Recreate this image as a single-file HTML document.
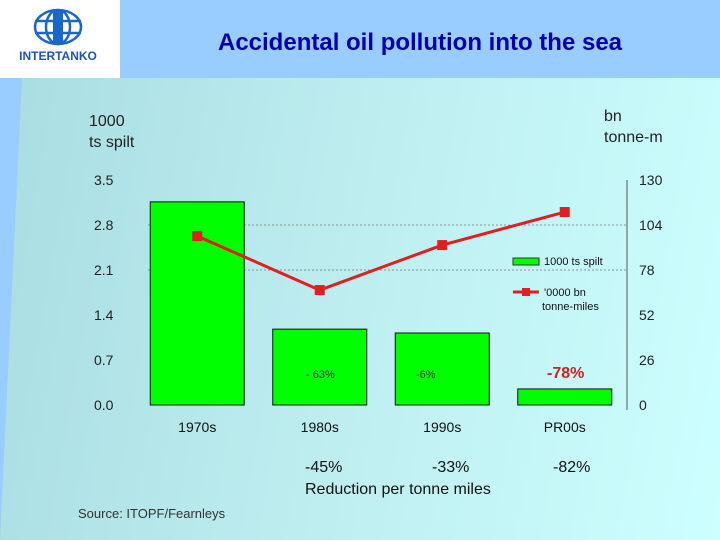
<!DOCTYPE html>
<html><head><meta charset="utf-8"><style>
body{margin:0;width:720px;height:540px;overflow:hidden;font-family:"Liberation Sans",sans-serif;}
#bg{position:absolute;left:0;top:0;width:720px;height:540px;background:#99ccff;}
#panel{position:absolute;left:0;top:78px;width:720px;height:462px;background:linear-gradient(100deg,#a8dde2 0%,#bfeef0 50%,#ccffff 100%);clip-path:polygon(28px 0,720px 0,720px 462px,0 462px,0 462px,22px 0);}
#logo{position:absolute;left:0;top:0;width:120px;height:78px;background:#fff;}
</style></head><body>
<div id="bg"></div>
<div id="panel"></div>
<div id="logo">
<svg width="120" height="78">
<g fill="none" stroke="#1a66cc" stroke-width="2.5"><ellipse cx="58" cy="27" rx="23" ry="17"/><ellipse cx="58" cy="27" rx="12" ry="17"/><line x1="35" y1="21" x2="81" y2="21"/><line x1="35" y1="33" x2="81" y2="33"/></g>
<rect x="53" y="10" width="10" height="34" fill="#1a66cc"/>
<text x="58" y="60" font-size="12" font-weight="bold" fill="#1a55bb" text-anchor="middle" font-family="Liberation Sans">INTERTANKO</text>
</svg></div>
<svg id="chart" width="720" height="540" style="position:absolute;left:0;top:0" font-family="Liberation Sans">
<text x="420" y="50" font-size="24" font-weight="bold" fill="#0000aa" text-anchor="middle">Accidental oil pollution into the sea</text>
<text x="89" y="126" font-size="16" fill="#222">1000</text>
<text x="89" y="147" font-size="16" fill="#222">ts spilt</text>
<text x="604" y="121" font-size="16" fill="#222">bn</text>
<text x="604" y="142" font-size="16" fill="#222">tonne-m</text>
<g id="grid"></g><g id="bars"></g><g id="line"></g><g id="axes"></g>
<line x1="627" y1="180" x2="627" y2="410" stroke="#555"/>
<g>
<rect x="513" y="258" width="26" height="7" fill="#00ff00" stroke="#333"/>
<text x="544" y="265" font-size="11" fill="#111">1000 ts spilt</text>
<line x1="513" y1="292" x2="539" y2="292" stroke="#e02020" stroke-width="3"/>
<rect x="522" y="288" width="8" height="8" fill="#e02020"/>
<text x="544" y="296" font-size="11" fill="#111">'0000 bn</text>
<text x="542" y="310" font-size="11" fill="#111">tonne-miles</text>
</g>
<text x="306" y="378" font-size="11" fill="#333">- 63%</text>
<text x="416" y="378" font-size="11" fill="#333">-6%</text>
<text x="547" y="378" font-size="16" font-weight="bold" fill="#cc2222">-78%</text>
<text x="305" y="472" font-size="16" fill="#111">-45%</text>
<text x="432" y="472" font-size="16" fill="#111">-33%</text>
<text x="553" y="472" font-size="16" fill="#111">-82%</text>
<text x="305" y="494" font-size="16" fill="#111">Reduction per tonne miles</text>
<text x="78" y="518" font-size="13" fill="#333">Source: ITOPF/Fearnleys</text>
</svg>
<script>
const categories=["1970s","1980s","1990s","PR00s"];
const spilt=[3.16,1.18,1.12,0.25];
const tonneMiles=[97.6,66.4,92.4,111.5];
const leftTicks=["0.0","0.7","1.4","2.1","2.8","3.5"];
const rightTicks=["0","26","52","78","104","130"];
const NS="http://www.w3.org/2000/svg";
const y0=405,yTop=180,x0=136,band=122.5;
const yL=v=>y0-(v/3.5)*(y0-yTop);
const yR=v=>y0-(v/130)*(y0-yTop);
const xc=i=>x0+band*(i+0.5);
function mk(tag,attrs,parent,txt){const e=document.createElementNS(NS,tag);for(const k in attrs)e.setAttribute(k,attrs[k]);if(txt!=null)e.textContent=txt;document.getElementById(parent).appendChild(e);return e;}
leftTicks.forEach((t,i)=>{const y=yL(+t);
const e=mk("text",{x:94,y:y+5,"font-size":14,fill:"#222"},"axes",t);


const r=mk("text",{x:639,y:yR(+rightTicks[i])+5,"font-size":14,fill:"#222"},"axes",rightTicks[i]);


if(i>=3&&i<5){const g=mk("line",{x1:148,x2:627,y1:y,y2:y,stroke:"#777","stroke-dasharray":"2,2","stroke-width":0.7},"grid");

}
});
categories.forEach((c,i)=>{
const b=mk("rect",{x:xc(i)-47,y:yL(spilt[i]),width:94,height:y0-yL(spilt[i]),fill:"#00ff00",stroke:"#111","stroke-width":1},"bars");


const t=mk("text",{x:xc(i),y:432,"font-size":14,fill:"#111","text-anchor":"middle"},"axes",c);


});
const pl=mk("polyline",{points:tonneMiles.map((v,i)=>xc(i)+","+yR(v)).join(" "),fill:"none",stroke:"#e02020","stroke-width":3},"line");


tonneMiles.forEach((v,i)=>{const m=mk("rect",{x:xc(i)-5,y:yR(v)-5,width:10,height:10,fill:"#e02020"},"line");

});
</script>
</body></html>
